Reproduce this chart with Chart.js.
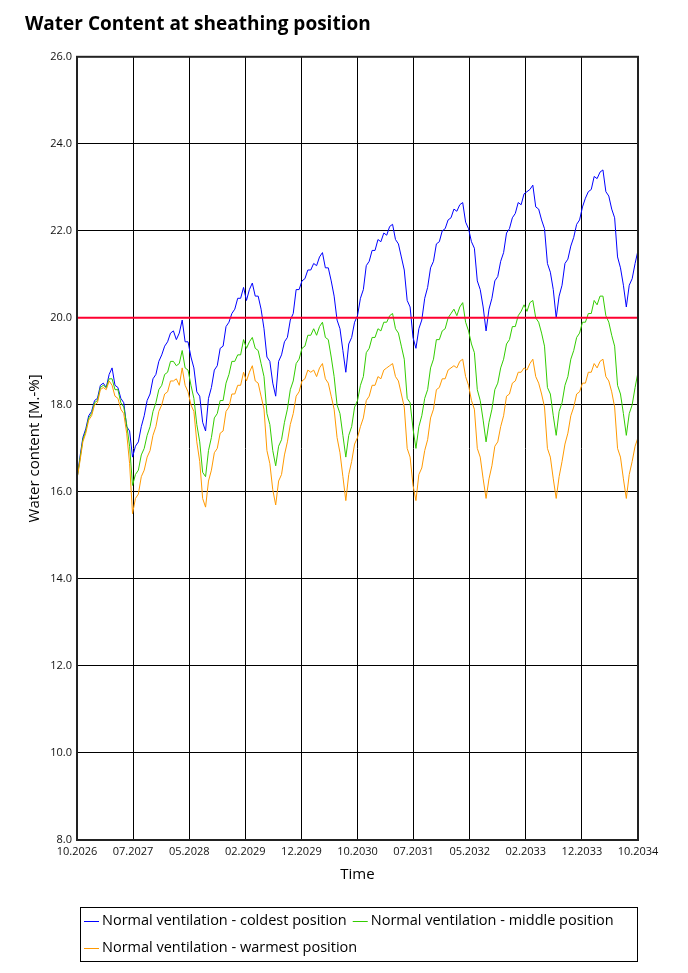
<!DOCTYPE html>
<html>
<head>
<meta charset="utf-8">
<script src="https://cdn.jsdelivr.net/npm/chart.js@4.4.1/dist/chart.umd.min.js"></script>
<style>
  html, body { margin: 0; padding: 0; background: #ffffff; }
  #wrap { position: relative; width: 688px; height: 973px; }
</style>
</head>
<body>
<div id="wrap"><canvas id="c" width="688" height="973"></canvas></div>
<script>
// ---------- DATA ----------
const chartTitle = "Water Content at sheathing position";
const xAxisTitle = "Time";
const yAxisTitle = "Water content [M.-%]";
const xTickLabels = ["10.2026","07.2027","05.2028","02.2029","12.2029","10.2030","07.2031","05.2032","02.2033","12.2033","10.2034"];
const xStartMonth = 0;      // months since 10.2026
const xEndMonth = 96;       // 10.2034
const sampleStepMonths = 0.5;
const yMin = 8, yMax = 26, yStep = 2;
const limitValue = 20;      // red reference line

const seriesNames = [
  "Normal ventilation - coldest position",
  "Normal ventilation - middle position",
  "Normal ventilation - warmest position"
];

const coldest = [
16.3,16.8,17.25,17.45,17.75,17.85,18.1,18.15,18.45,18.5,18.4,18.7,18.85,18.45,18.4,18.15,18.05,17.5,17.4,16.8,
17.05,17.15,17.5,17.75,18.1,18.25,18.6,18.7,19.0,19.15,19.35,19.45,19.65,19.7,19.5,19.65,19.95,19.45,19.45,19.1,
18.85,18.3,18.2,17.6,17.4,18.15,18.4,18.8,18.9,19.3,19.35,19.8,19.9,20.1,20.2,20.45,20.45,20.7,20.4,20.65,
20.8,20.5,20.5,20.2,19.75,19.1,19.0,18.5,18.2,19.0,19.15,19.45,19.55,19.95,20.1,20.65,20.65,20.85,20.9,21.1,
21.1,21.25,21.2,21.4,21.5,21.15,21.15,20.85,20.5,19.95,19.75,19.25,18.75,19.4,19.55,19.9,20.05,20.45,20.65,21.2,
21.3,21.55,21.55,21.8,21.75,21.95,21.9,22.1,22.15,21.8,21.7,21.4,21.1,20.4,20.25,19.55,19.3,19.75,19.95,20.45,
20.7,21.15,21.3,21.7,21.75,22.0,22.05,22.25,22.3,22.5,22.45,22.6,22.65,22.2,22.05,21.75,21.6,20.85,20.65,20.25,
19.7,20.2,20.45,20.85,20.95,21.3,21.5,21.95,22.05,22.3,22.4,22.65,22.6,22.85,22.9,22.95,23.05,22.55,22.5,22.25,
22.05,21.25,21.05,20.65,20.0,20.5,20.75,21.25,21.35,21.65,21.85,22.15,22.25,22.55,22.75,22.9,22.95,23.25,23.2,23.35,
23.4,22.9,22.8,22.5,22.3,21.4,21.15,20.75,20.25,20.75,20.9,21.25,21.55
];

const middle = [
16.3,16.75,17.2,17.4,17.7,17.8,18.05,18.1,18.4,18.45,18.4,18.6,18.6,18.35,18.35,18.05,17.95,17.55,17.05,16.15,
16.4,16.5,16.85,17.0,17.3,17.5,17.85,18.05,18.35,18.45,18.7,18.75,19.0,19.0,18.9,18.95,19.25,18.85,18.8,18.45,
18.15,17.55,17.15,16.45,16.35,16.95,17.25,17.7,17.8,18.1,18.1,18.5,18.7,19.0,19.0,19.15,19.15,19.5,19.3,19.45,
19.55,19.3,19.25,18.95,18.65,17.8,17.55,16.95,16.6,17.05,17.2,17.6,17.9,18.35,18.55,18.95,19.05,19.3,19.35,19.6,
19.6,19.75,19.6,19.8,19.9,19.55,19.5,19.1,18.65,18.0,17.8,17.3,16.8,17.3,17.5,17.95,18.1,18.45,18.65,19.2,
19.3,19.55,19.55,19.75,19.7,19.9,19.9,20.05,20.1,19.75,19.65,19.35,19.05,18.15,18.05,17.45,17.0,17.5,17.75,18.15,
18.35,18.85,19.05,19.5,19.5,19.7,19.75,20.0,20.1,20.2,20.05,20.25,20.35,19.9,19.7,19.4,19.2,18.35,18.1,17.65,
17.15,17.6,17.9,18.35,18.5,18.85,19.05,19.4,19.5,19.8,19.8,20.05,20.15,20.3,20.15,20.35,20.4,20.0,19.9,19.65,
19.35,18.4,18.25,17.75,17.3,17.85,18.05,18.45,18.65,19.05,19.25,19.55,19.65,19.9,19.9,20.1,20.1,20.4,20.3,20.5,
20.5,20.05,19.9,19.6,19.35,18.45,18.25,17.8,17.3,17.8,18.0,18.4,18.75
];

const warmest = [
16.3,16.7,17.15,17.35,17.65,17.75,18.0,18.05,18.35,18.4,18.35,18.55,18.45,18.2,18.15,17.9,17.8,17.35,16.65,15.5,
15.85,15.95,16.35,16.5,16.8,16.95,17.3,17.5,17.85,18.0,18.25,18.3,18.55,18.55,18.6,18.45,18.85,18.45,18.3,18.0,
17.85,17.15,16.7,15.85,15.65,16.25,16.5,16.9,17.0,17.35,17.4,17.85,17.95,18.25,18.25,18.45,18.45,18.75,18.55,18.75,
18.9,18.55,18.5,18.2,17.9,16.95,16.65,16.05,15.7,16.25,16.4,16.85,17.15,17.55,17.8,18.2,18.3,18.55,18.6,18.8,
18.75,18.8,18.65,18.85,18.95,18.6,18.5,18.2,17.9,17.25,16.9,16.35,15.8,16.4,16.7,17.1,17.25,17.5,17.7,18.1,
18.2,18.45,18.45,18.65,18.6,18.8,18.85,18.9,18.95,18.65,18.55,18.25,17.95,17.0,16.8,16.15,15.8,16.4,16.55,16.95,
17.2,17.7,17.9,18.35,18.4,18.6,18.6,18.8,18.85,18.9,18.85,19.0,19.05,18.65,18.45,18.1,17.9,17.0,16.8,16.3,
15.85,16.3,16.6,17.05,17.15,17.5,17.75,18.2,18.25,18.5,18.55,18.75,18.75,18.85,18.8,18.95,19.05,18.65,18.5,18.25,
17.95,17.0,16.8,16.3,15.85,16.35,16.7,17.1,17.35,17.75,17.95,18.25,18.3,18.5,18.5,18.75,18.75,18.95,18.85,19.0,
19.05,18.65,18.55,18.3,17.95,17.0,16.8,16.3,15.85,16.4,16.7,17.05,17.25
];

const seriesColors = ["#0000ff", "#33cc00", "#ff9900"];
const limitColor = "#ff0030";
const FONT = "'Open Sans', 'DejaVu Sans', sans-serif";

// ---------- BUILD ----------
function toPoints(arr) {
  return arr.map((v, i) => ({ x: xStartMonth + i * sampleStepMonths, y: v }));
}
const allSeries = [coldest, middle, warmest];

const datasets = allSeries.map((arr, k) => ({
  label: seriesNames[k],
  data: toPoints(arr),
  borderColor: seriesColors[k],
  backgroundColor: seriesColors[k],
  borderWidth: 1,
  pointRadius: 0,
  tension: 0,
  fill: false,
  order: 3 - k
}));
datasets.push({
  label: "__limit",
  data: [{ x: xStartMonth, y: limitValue }, { x: xEndMonth, y: limitValue }],
  borderColor: limitColor,
  borderWidth: 2,
  pointRadius: 0,
  fill: false,
  order: 0
});

const frameAndLegend = {
  id: "frameAndLegend",
  afterDatasetsDraw(chart) {
    const { ctx, chartArea: a } = chart;
    ctx.save();
    ctx.strokeStyle = "#222";
    ctx.lineWidth = 2;
    ctx.strokeRect(a.left, a.top, a.right - a.left, a.bottom - a.top);
    ctx.restore();
  },
  afterDraw(chart) {
    const { ctx, chartArea: a } = chart;
    const boxLeft = 80, boxTop = 907, boxRight = a.right, boxBottom = 962;
    ctx.save();
    ctx.strokeStyle = "#000";
    ctx.lineWidth = 1;
    ctx.strokeRect(boxLeft + 0.5, boxTop + 0.5, boxRight - boxLeft - 1, boxBottom - boxTop - 1);
    ctx.font = "14.5px " + FONT;
    ctx.textBaseline = "middle";
    ctx.fillStyle = "#000";
    const items = chart.data.datasets.filter(d => !d.label.startsWith("__"));
    let x = boxLeft + 4, y = boxTop + 14;
    const rowH = 27, lineLen = 15, gap = 3, itemGap = 6;
    items.forEach(d => {
      const w = lineLen + gap + ctx.measureText(d.label).width;
      if (x + w > boxRight - 4) { x = boxLeft + 4; y += rowH; }
      ctx.strokeStyle = d.borderColor;
      ctx.lineWidth = 1;
      ctx.beginPath();
      ctx.moveTo(x, Math.round(y) + 0.5);
      ctx.lineTo(x + lineLen, Math.round(y) + 0.5);
      ctx.stroke();
      ctx.fillText(d.label, x + lineLen + gap, y);
      x += w + itemGap;
    });
    ctx.restore();
  }
};

new Chart(document.getElementById("c"), {
  type: "line",
  data: { datasets },
  options: {
    responsive: false,
    animation: false,
    layout: { padding: { left: 25, right: 50, top: 0, bottom: 73 } },
    plugins: {
      legend: { display: false },
      tooltip: { enabled: false },
      title: {
        display: true,
        text: chartTitle,
        align: "start",
        color: "#000",
        font: { family: FONT, size: 19, weight: "bold" },
        padding: { top: 13, bottom: 21 }
      }
    },
    scales: {
      x: {
        type: "linear",
        min: xStartMonth,
        max: xEndMonth,
        afterFit(s) { s.height = 60; },
        afterBuildTicks(s) {
          s.ticks = xTickLabels.map((l, i) => ({ value: xStartMonth + i * (xEndMonth - xStartMonth) / (xTickLabels.length - 1) }));
        },
        ticks: {
          autoSkip: false,
          maxRotation: 0,
          padding: 5,
          color: "#111",
          font: { family: FONT, size: 11 },
          callback: (v, i) => xTickLabels[i]
        },
        grid: { color: "#000", lineWidth: 1, drawTicks: false },
        border: { display: false },
        title: {
          display: true,
          text: xAxisTitle,
          color: "#000",
          font: { family: FONT, size: 15 },
          padding: { top: 0, bottom: 16 }
        }
      },
      y: {
        type: "linear",
        min: yMin,
        max: yMax,
        afterFit(s) { s.width = 52; },
        ticks: {
          stepSize: yStep,
          padding: 5,
          color: "#111",
          font: { family: FONT, size: 11 },
          callback: v => Number(v).toFixed(1)
        },
        grid: { color: "#000", lineWidth: 1, drawTicks: false },
        border: { display: false },
        title: {
          display: true,
          text: yAxisTitle,
          color: "#000",
          font: { family: FONT, size: 15 },
          padding: { top: 1, bottom: 0 }
        }
      }
    }
  },
  plugins: [frameAndLegend]
});
</script>
</body>
</html>
